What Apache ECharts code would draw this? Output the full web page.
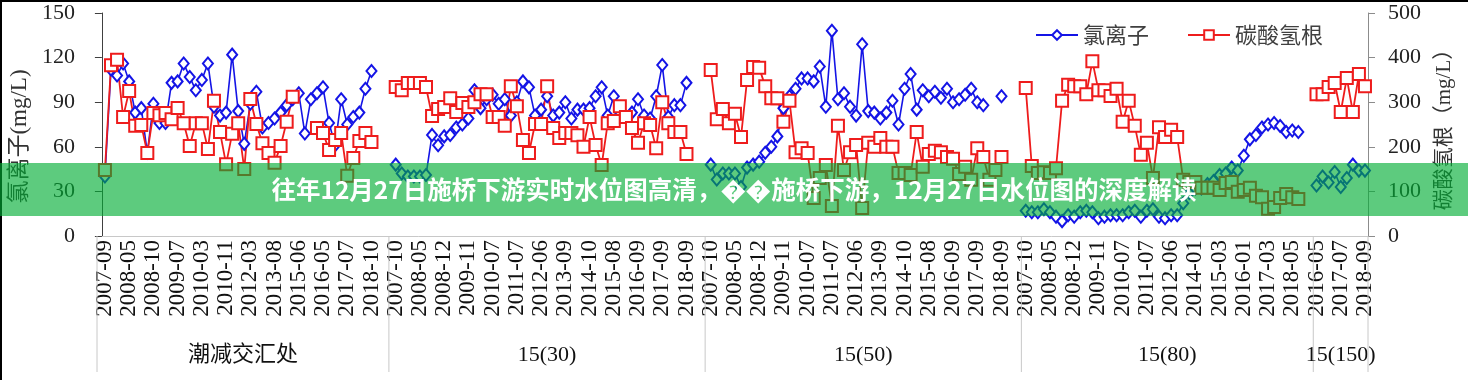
<!DOCTYPE html>
<html><head><meta charset="utf-8">
<script src="https://cdn.jsdelivr.net/npm/echarts@6/dist/echarts.min.js"></script>
<style>html,body{margin:0;padding:0;background:#fff;}#c{width:1468px;height:380px;}</style>
</head><body><div id="c"></div>
<script>
// ---- group structure ----
const groupNames = ['潮减交汇处', '15(30)', '15(50)', '15(80)', '15(150)'];
const groupSizes = [48, 52, 52, 48, 9];
// tick labels (every 4th category)
const labelsG1 = ['2007-09','2008-05','2008-10','2009-07','2010-03','2010-11','2012-03','2013-08','2015-06','2016-05','2017-07','2018-10'];
const labelsG2 = ['2007-10','2008-05','2008-12','2009-11','2010-07','2011-07','2012-06','2013-09','2014-10','2015-08','2016-09','2017-09','2018-09'];
const labelsG3 = ['2007-10','2008-05','2008-12','2009-11','2010-07','2011-07','2012-06','2013-09','2014-10','2015-08','2016-09','2017-09','2018-09'];
const labelsG4 = ['2007-10','2008-05','2008-12','2009-11','2010-07','2011-07','2012-06','2014-01','2015-03','2016-01','2017-03','2018-05'];
const labelsG5 = ['2016-05','2017-07','2018-09'];

// ---- 氯离子 (mg/L), left axis ----
const clG1 = [40,112,108,116,104,83,86,56,89,76,76,103,104,116,107,98,105,116,87,81,83,122,84,62,89,97,73,76,79,83,88,92,96,69,92,96,100,76,61,92,75,80,83,99,111,null,null,null];
const clG2 = [48,42,40,40,40,41,68,61,67,68,73,75,79,98,86,92,95,89,92,81,90,104,100,81,85,94,81,83,90,79,85,85,86,94,100,81,94,83,80,83,92,81,79,94,115,80,88,88,103,null,null,null];
const clG3 = [48,38,42,42,42,33,46,48,50,56,60,67,86,94,99,106,106,104,114,87,138,92,96,87,81,129,84,83,79,83,91,75,99,109,85,98,94,97,93,99,90,92,95,99,90,88,null,null,94,null,null,null];
const clG4 = [17,16,16,18,16,13,10,14,13,16,17,16,12,13,14,14,14,16,17,13,17,18,13,12,14,14,22,29,32,32,35,37,41,42,46,44,54,65,68,73,75,76,74,70,71,70,null,null];
const clG5 = [34,40,36,43,33,39,48,44,44];

// ---- 碳酸氢根 (mg/L), right axis ----
const hcG1 = [148,383,395,267,325,247,249,186,276,271,276,262,287,253,202,253,253,195,303,233,161,229,253,150,307,251,208,186,164,202,256,312,null,null,null,242,231,193,215,231,135,175,213,231,211,null,null,null];
const hcG2 = [334,327,343,343,343,334,269,285,289,309,278,298,289,300,318,318,267,267,247,336,291,215,186,251,251,336,242,220,231,231,226,200,267,204,159,253,258,291,267,242,209,253,249,197,300,253,233,233,184,null,null,null];
const hcG3 = [372,262,285,253,274,222,350,379,377,336,309,309,256,303,188,197,186,85,130,159,67,247,148,188,204,63,209,200,220,200,200,141,141,137,233,155,184,191,188,177,173,139,155,126,197,177,126,148,177,null,null,null];
const hcG4 = [332,157,141,143,141,152,303,339,336,336,318,392,327,327,314,330,256,303,247,182,209,130,244,222,238,222,126,121,121,108,108,108,103,119,121,99,103,108,90,87,61,65,85,94,87,83,null,null];
const hcG5 = [318,318,334,343,278,354,278,363,336];

const bannerText = '往年12月27日施桥下游实时水位图高清，\uFFFD\uFFFD施桥下游，12月27日水位图的深度解读';

// ---- build categories ----
const labelGroups = [labelsG1, labelsG2, labelsG3, labelsG4, labelsG5];
const categories = [];
groupSizes.forEach((n, g) => {
  for (let k = 0; k < n; k++) categories.push(k % 4 === 0 ? (labelGroups[g][k / 4] || '') : '');
});
const cl = [].concat(clG1, clG2, clG3, clG4, clG5);
const hc = [].concat(hcG1, hcG2, hcG3, hcG4, hcG5);
const groupSpans = [];
let acc = 0;
groupSizes.forEach((n, g) => { groupSpans.push([acc, acc + n, g]); acc += n; });
const total = acc;

const serif = "'Liberation Serif','Noto Sans CJK SC'";
const chart = echarts.init(document.getElementById('c'), null, {renderer: 'canvas'});
chart.setOption({
  animation: false,
  backgroundColor: '#fff',
  grid: [
    {left: 97, right: 100, top: 13, bottom: 144},
    {left: 97, right: 100, top: 236, height: 136}
  ],
  legend: {
    data: ['氯离子', '碳酸氢根'],
    left: 1030, top: 19,
    itemWidth: 42, itemHeight: 12, itemGap: 38,
    textStyle: {fontSize: 22, fontFamily: "'Noto Sans CJK SC'", color: '#404040'}
  },
  xAxis: [
    {
      type: 'category', gridIndex: 0, data: categories, boundaryGap: true,
      axisLine: {show: true, lineStyle: {color: '#c8c8c8', width: 1}},
      axisTick: {show: false},
      axisLabel: {interval: 3, rotate: 90, fontSize: 23, fontFamily: "'Liberation Serif'", color: '#111', margin: 4,
                  showMinLabel: true, showMaxLabel: true, hideOverlap: false}
    },
    {type: 'value', gridIndex: 1, min: 0, max: total, show: false}
  ],
  yAxis: [
    {
      type: 'value', gridIndex: 0, min: 0, max: 150, interval: 30, position: 'left',
      axisLine: {show: true, lineStyle: {color: '#404040', width: 1}},
      axisTick: {show: true, length: 7, lineStyle: {color: '#404040'}},
      splitLine: {show: false},
      axisLabel: {fontSize: 22, fontFamily: "'Liberation Serif'", color: '#222', margin: 27},
      name: '氯离子(mg/L)', nameLocation: 'middle', nameRotate: 90, nameGap: 63,
      nameTextStyle: {fontSize: 23, fontFamily: serif, color: '#333', padding: [0, 24, 0, 0]}
    },
    {
      type: 'value', gridIndex: 0, min: 0, max: 500, interval: 100, position: 'right',
      axisLine: {show: true, lineStyle: {color: '#8c8c8c', width: 1}},
      axisTick: {show: true, length: 7, lineStyle: {color: '#8c8c8c'}},
      splitLine: {show: false},
      axisLabel: {fontSize: 22, fontFamily: "'Liberation Serif'", color: '#222', margin: 20},
      name: '碳酸氢根（mg/L）', nameLocation: 'middle', nameRotate: 90, nameGap: 66,
      nameTextStyle: {fontSize: 21, fontFamily: serif, color: '#333'}
    },
    {type: 'value', gridIndex: 1, min: 0, max: 1, show: false}
  ],
  series: [
    {
      name: '氯离子', type: 'line', xAxisIndex: 0, yAxisIndex: 0, data: cl,
      symbol: 'emptyDiamond', symbolSize: [10, 12], showAllSymbol: true, connectNulls: false,
      lineStyle: {color: '#1414e6', width: 1.6},
      itemStyle: {color: '#1414e6', borderWidth: 1.6}
    },
    {
      name: '碳酸氢根', type: 'line', xAxisIndex: 0, yAxisIndex: 1, data: hc,
      symbol: 'emptyRect', symbolSize: 12, showAllSymbol: true, connectNulls: false,
      lineStyle: {color: '#ee1c1c', width: 1.8},
      itemStyle: {color: '#ee1c1c', borderWidth: 2}
    },
    {
      type: 'custom', xAxisIndex: 1, yAxisIndex: 2, data: groupSpans, silent: true,
      renderItem: function (params, api) {
        const s = api.value(0), e = api.value(1), g = api.value(2);
        const top = api.coord([s, 1]), bot = api.coord([s, 0]);
        const endTop = api.coord([e, 1]);
        const children = [
          {type: 'line', shape: {x1: top[0], y1: top[1], x2: bot[0], y2: bot[1]}, style: {stroke: '#c8c8c8', lineWidth: 1}},
          {type: 'text', style: {text: groupNames[g], x: (top[0] + endTop[0]) / 2, y: bot[1] - 17, align: 'center', verticalAlign: 'middle', fill: '#111', font: "22px 'Liberation Serif','Noto Sans CJK SC'"}}
        ];
        if (g === groupNames.length - 1) {
          children.push({type: 'line', shape: {x1: endTop[0], y1: endTop[1], x2: endTop[0], y2: bot[1]}, style: {stroke: '#c8c8c8', lineWidth: 1}});
        }
        return {type: 'group', children: children};
      }
    }
  ],
  graphic: [
    {type: 'line', z: 200, shape: {x1: 0, y1: 1, x2: 1468, y2: 1}, style: {stroke: '#000', lineWidth: 2}},
    {type: 'line', z: 200, shape: {x1: 1, y1: 0, x2: 1, y2: 380}, style: {stroke: '#000', lineWidth: 2}},
    {type: 'rect', z: 200, shape: {x: 0, y: 163, width: 1468, height: 53}, style: {fill: 'rgba(0,173,52,0.635)'}},
    {type: 'text', z: 201, x: 734, y: 190, style: {text: bannerText, align: 'center', verticalAlign: 'middle', fill: '#fff', font: "bold 24.5px 'Noto Sans CJK SC'"}}
  ]
});
</script></body></html>
